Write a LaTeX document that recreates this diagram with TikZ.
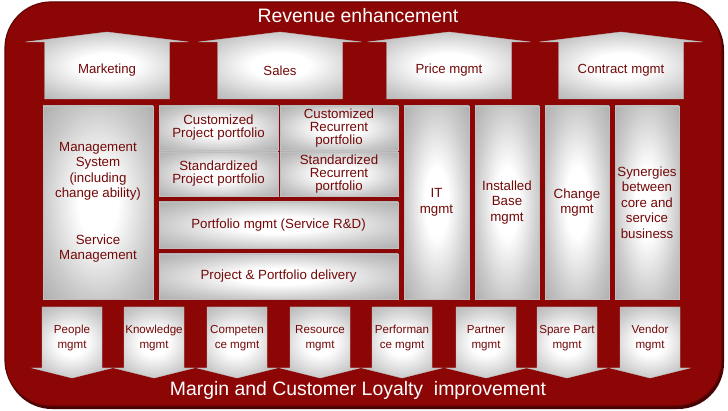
\documentclass[tikz,border=0pt]{standalone}
\usepackage{fontspec}
\setmainfont{Liberation Sans}
\definecolor{framered}{RGB}{140,6,6}
\definecolor{txtred}{RGB}{115,8,8}
\pgfdeclareradialshading{silver}{\pgfpoint{0bp}{0bp}}{color(0bp)=(white); color(9bp)=(white); color(25bp)=(gray!42); color(35bp)=(gray!62); color(50bp)=(gray!72)}
\begin{document}
\begin{tikzpicture}[x=1pt,y=-1pt,
  panel/.style={inner sep=0pt, align=center, text=txtred, shading=silver,
    draw=gray!50, line width=0.4pt, font=\fontsize{13.3}{15.5}\selectfont},
  small/.style={font=\fontsize{13.3}{13}\selectfont},
  arrowfill/.style={shading=silver, draw=gray!50, line width=0.4pt},
  lbl/.style={inner sep=0pt, align=center, text=txtred, font=\fontsize{13.2}{15}\selectfont},
  blbl/.style={inner sep=0pt, align=center, text=txtred, font=\fontsize{11.6}{15.5}\selectfont},
  title/.style={inner sep=0pt, text=white, font=\fontsize{19.4}{21}\selectfont}]
\useasboundingbox (0,0) rectangle (728,411);
\fill[white] (0,0) rectangle (728,411);
% frame
\fill[black!50!framered, rounded corners=46pt] (6,4) rectangle (724,409);
\draw[fill=framered, draw=black!30!framered, line width=1.2pt, rounded corners=46pt] (5,2) rectangle (722,406);
\node[title] (top) at (358,16) {Revenue enhancement};
\node[title] (bottom) at (358,390) {Margin and Customer Loyalty\ \ improvement};
% upward arrows
\foreach \cx/\nm/\txt in {107/mkt/Marketing, 280/sal/Sales, 449/prc/Price mgmt, 621/con/Contract mgmt}{
  \shade[arrowfill] (\cx-62.5,99) -- (\cx-62.5,42) -- (\cx-81.5,42) -- (\cx,32) -- (\cx+81.5,42)
     -- (\cx+62.5,42) -- (\cx+62.5,99) -- cycle;
  \node[lbl] (\nm) at (\cx,70.5) {\txt};
}
% downward arrows
\foreach \cx/\nm/\txt in {72/ppl/People\\mgmt, 154/knw/Knowledge\\mgmt, 237/cmp/Competen\\ce mgmt,
   320/res/Resource\\mgmt, 402/prf/Performan\\ce mgmt, 486/prt/Partner\\mgmt,
   567/spr/Spare Part\\mgmt, 650/ven/Vendor\\mgmt}{
  \shade[arrowfill] (\cx-30,307) -- (\cx+30,307) -- (\cx+30,368) -- (\cx+40,368) -- (\cx,378)
     -- (\cx-40,368) -- (\cx-30,368) -- cycle;
  \node[blbl] (\nm) at (\cx,338) {\txt};
}
% middle panels
\node[panel, minimum width=110pt, minimum height=193pt] (ms) at (98,202.5)
  {Management\\System\\(including\\change ability)\\[31pt]Service\\Management};
\node[panel, small, minimum width=119pt, minimum height=44pt] (cpp) at (218.5,128) {Customized\\Project portfolio};
\node[panel, small, minimum width=118pt, minimum height=44pt] (crp) at (339,128) {Customized\\Recurrent\\portfolio};
\node[panel, small, minimum width=119pt, minimum height=44pt] (spp) at (218.5,174) {Standardized\\Project portfolio};
\node[panel, small, minimum width=118pt, minimum height=44pt] (srp) at (339,174) {Standardized\\Recurrent\\portfolio};
\node[panel, minimum width=239pt, minimum height=46pt] (pm) at (278.5,225) {Portfolio mgmt (Service R\&D)};
\node[panel, minimum width=239pt, minimum height=45pt] (pd) at (278.5,276.5) {Project \& Portfolio delivery};
\node[panel, minimum width=65pt, minimum height=193pt] (it) at (436.5,202.5) {IT\\mgmt};
\node[panel, minimum width=64pt, minimum height=193pt] (ib) at (507,202.5) {Installed\\Base\\mgmt};
\node[panel, minimum width=64pt, minimum height=193pt] (chg) at (577,202.5) {Change\\mgmt};
\node[panel, minimum width=64pt, minimum height=193pt] (syn) at (647,202.5) {Synergies\\between\\core and\\service\\business};
\end{tikzpicture}
\end{document}
